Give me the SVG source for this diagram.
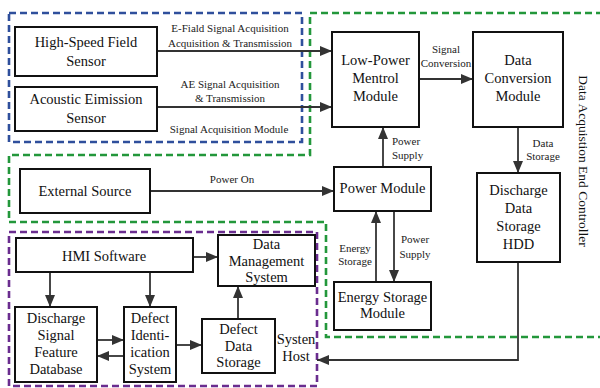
<svg xmlns="http://www.w3.org/2000/svg" width="600" height="388" viewBox="0 0 600 388" font-family="'Liberation Serif', 'DejaVu Serif', serif">
<defs>
<marker id="ah" viewBox="0 0 12 10" refX="12" refY="5" markerWidth="12" markerHeight="10" markerUnits="userSpaceOnUse" orient="auto">
<path d="M0,0 L12,5 L0,10 z" fill="#333"/>
</marker>
<style>
text{font-family:'Liberation Serif','DejaVu Serif',serif}
.box{fill:#fff;stroke:#111;stroke-width:2}
.t{font-size:14.5px;fill:#111;text-anchor:middle}
.l{font-size:11px;fill:#222;text-anchor:middle}
.c{fill:none;stroke:#333;stroke-width:1.8;marker-end:url(#ah)}
.g{fill:none;stroke-width:2.6;stroke-dasharray:7,4}
</style>
</defs>
<rect width="600" height="388" fill="#fff"/>
<g id="regions">
<rect class="g" x="9" y="13" width="293" height="129" stroke="#2f4f9c"/>
<path class="g" d="M603,13 H310 V155 H9 V222 H326 V337 H603" stroke="#23973b"/>
<rect class="g" x="9" y="232" width="308" height="154" stroke="#6a2d8f"/>
</g>
<g id="connectors">
<path class="c" d="M157,51 H332"/>
<path class="c" d="M157,107 H332"/>
<path class="c" d="M419,79 H473"/>
<path class="c" d="M383,167 V127"/>
<path class="c" d="M518,127 V173"/>
<path class="c" d="M150,191 H334"/>
<path class="c" d="M376,282 V211"/>
<path class="c" d="M394,211 V282"/>
<path class="c" d="M518,262 V360 H317"/>
<path class="c" d="M193,257 H218"/>
<path class="c" d="M50,272 V307"/>
<path class="c" d="M150,272 V307"/>
<path class="c" d="M97,340 H124"/>
<path class="c" d="M124,356 H97"/>
<path class="c" d="M176,345 H202"/>
<path class="c" d="M238,319 V286"/>
<text class="l" x="230" y="32">E-Fiald Signal Acquisition</text>
<text class="l" x="230" y="47">Acquisition &amp; Transmission</text>
<text class="l" x="230" y="88">AE Signal Acquisition</text>
<text class="l" x="230" y="102">&amp; Transmission</text>
<text class="l" x="446" y="53">Signal</text>
<text class="l" x="446" y="67">Conversion</text>
<text class="l" x="392" y="145" style="text-anchor:start">Power</text>
<text class="l" x="392" y="159" style="text-anchor:start">Supply</text>
<text class="l" x="543" y="147">Data</text>
<text class="l" x="543" y="160">Storage</text>
<text class="l" x="232" y="183">Power On</text>
<text class="l" x="355" y="252">Energy</text>
<text class="l" x="355" y="265">Storage</text>
<text class="l" x="415" y="243">Power</text>
<text class="l" x="415" y="258">Supply</text>
</g>
<g id="sensor-field">
<rect class="box" x="15" y="27" width="142" height="49"/>
<text class="t" x="86" y="47">High-Speed Field</text>
<text class="t" x="86" y="66">Sensor</text>
</g>
<g id="sensor-ae">
<rect class="box" x="15" y="87" width="142" height="44"/>
<text class="t" x="86" y="104">Acoustic Eimission</text>
<text class="t" x="86" y="123">Sensor</text>
</g>
<g id="label-sam">
<text class="l" x="229" y="133">Signal Acquisition Module</text>
</g>
<g id="low-power">
<rect class="box" x="332" y="32" width="87" height="95"/>
<text class="t" x="375.5" y="65">Low-Power</text>
<text class="t" x="375.5" y="83">Mentrol</text>
<text class="t" x="375.5" y="101">Module</text>
</g>
<g id="data-conversion">
<rect class="box" x="473" y="32" width="90" height="95"/>
<text class="t" x="518" y="65">Data</text>
<text class="t" x="518" y="83">Conversion</text>
<text class="t" x="518" y="101">Module</text>
</g>
<g id="power-module">
<rect class="box" x="334" y="167" width="97" height="44"/>
<text class="t" x="382.5" y="193">Power Module</text>
</g>
<g id="energy-storage">
<rect class="box" x="334" y="282" width="97" height="48"/>
<text class="t" x="382.5" y="302">Energy Storage</text>
<text class="t" x="382.5" y="318">Module</text>
</g>
<g id="hdd">
<rect class="box" x="477" y="173" width="83" height="89"/>
<text class="t" x="518.5" y="195">Discharge</text>
<text class="t" x="518.5" y="213">Data</text>
<text class="t" x="518.5" y="231">Storage</text>
<text class="t" x="518.5" y="249">HDD</text>
</g>
<g id="external-source">
<rect class="box" x="20" y="169" width="130" height="44"/>
<text class="t" x="85" y="196">External Source</text>
</g>
<g id="hmi">
<rect class="box" x="16" y="238" width="177" height="34"/>
<text class="t" x="104" y="261">HMI Software</text>
</g>
<g id="dms">
<rect class="box" x="218" y="235" width="97" height="51"/>
<text class="t" x="266.5" y="249">Data</text>
<text class="t" x="266.5" y="266">Management</text>
<text class="t" x="266.5" y="282">System</text>
</g>
<g id="dsfd">
<rect class="box" x="15" y="307" width="82" height="75"/>
<text class="t" x="56" y="323">Discharge</text>
<text class="t" x="56" y="340">Signal</text>
<text class="t" x="56" y="357">Feature</text>
<text class="t" x="56" y="374">Database</text>
</g>
<g id="dis">
<rect class="box" x="124" y="307" width="52" height="75"/>
<text class="t" x="150" y="323">Defect</text>
<text class="t" x="150" y="340">Identi-</text>
<text class="t" x="150" y="357">ication</text>
<text class="t" x="150" y="374">System</text>
</g>
<g id="dds">
<rect class="box" x="202" y="319" width="73" height="54"/>
<text class="t" x="238.5" y="334">Defect</text>
<text class="t" x="238.5" y="351">Data</text>
<text class="t" x="238.5" y="367">Storage</text>
</g>
<g id="system-host">
<text class="t" x="296" y="344">Systen</text>
<text class="t" x="296" y="361">Host</text>
</g>
<g id="controller-label">
<text class="t" style="font-size:13.5px" transform="translate(579,161) rotate(90)">Data Acquistion End Controller</text>
</g>
</svg>
